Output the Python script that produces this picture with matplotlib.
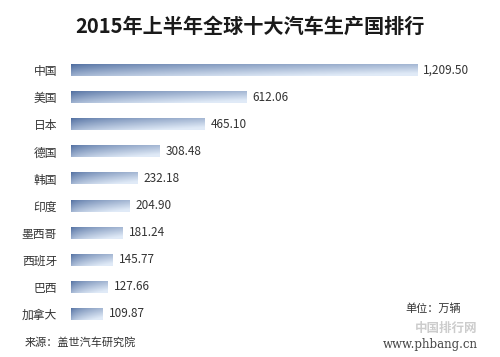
import numpy as np
import matplotlib
matplotlib.use("Agg")
import matplotlib.pyplot as plt

plt.rcParams['font.family'] = ['Noto Sans CJK SC', 'DejaVu Sans']

# data (万辆)
countries = ["中国", "美国", "日本", "德国", "韩国", "印度", "墨西哥", "西班牙", "巴西", "加拿大"]
output = [1209.50, 612.06, 465.10, 308.48, 232.18, 204.90, 181.24, 145.77, 127.66, 109.87]

title = "2015年上半年全球十大汽车生产国排行"
source = "来源：盖世汽车研究院"
unit = "单位：万辆"

fig = plt.figure(figsize=(5, 3.57), dpi=100)
ax = fig.add_axes([0.142, 0.0826, 0.8, 0.759])

ypos = np.arange(len(countries))
bars = ax.barh(ypos, output, height=0.44, color="none", edgecolor="none")

# gradient fill: darker blue at the left / top, fading to pale blue at the right
dark = np.array([0.30, 0.42, 0.62])
light = np.array([0.88, 0.92, 0.97])
nx, ny = 200, 20
tx = np.linspace(0, 1, nx)[None, :]
ty = np.linspace(0, 1, ny)[:, None]
mix = np.clip(0.6 * tx ** 0.5 + 0.5 * ty, 0, 1)
grad = dark[None, None, :] * (1 - mix[..., None]) + light[None, None, :] * mix[..., None]

for b in bars:
    x0, y0, w, h = b.get_x(), b.get_y(), b.get_width(), b.get_height()
    ax.imshow(grad, extent=(x0, x0 + w, y0 + h, y0), aspect="auto",
              interpolation="bilinear", zorder=2)

for y, v in zip(ypos, output):
    ax.text(v + 22, y, f"{v:,.2f}", va="center", ha="left", fontsize=8.5,
            color="#333333")

ax.set_xlim(0, 1398)
ax.set_ylim(9.5, -0.5)
ax.set_yticks(ypos)
ax.set_yticklabels(countries, fontsize=8.5, color="#333333")
ax.tick_params(axis="y", length=0, pad=10)
ax.set_xticks([])
for s in ax.spines.values():
    s.set_visible(False)

fig.text(0.5, 0.925, title, ha="center", va="center", fontsize=14.5,
         fontweight="bold", color="#1a1a1a")
fig.text(0.05, 0.04, source, ha="left", va="center", fontsize=8,
         style="italic", color="#333333")
fig.text(0.81, 0.137, unit, ha="left", va="center", fontsize=8,
         color="#333333")
fig.text(0.955, 0.08, "中国排行网", ha="right", va="center", fontsize=9,
         color="#cccccc", fontweight="bold")
fig.text(0.955, 0.035, "www.phbang.cn", ha="right", va="center", fontsize=8.5,
         family="DejaVu Serif", color="#444444")

fig.savefig("out.png", dpi=100)
